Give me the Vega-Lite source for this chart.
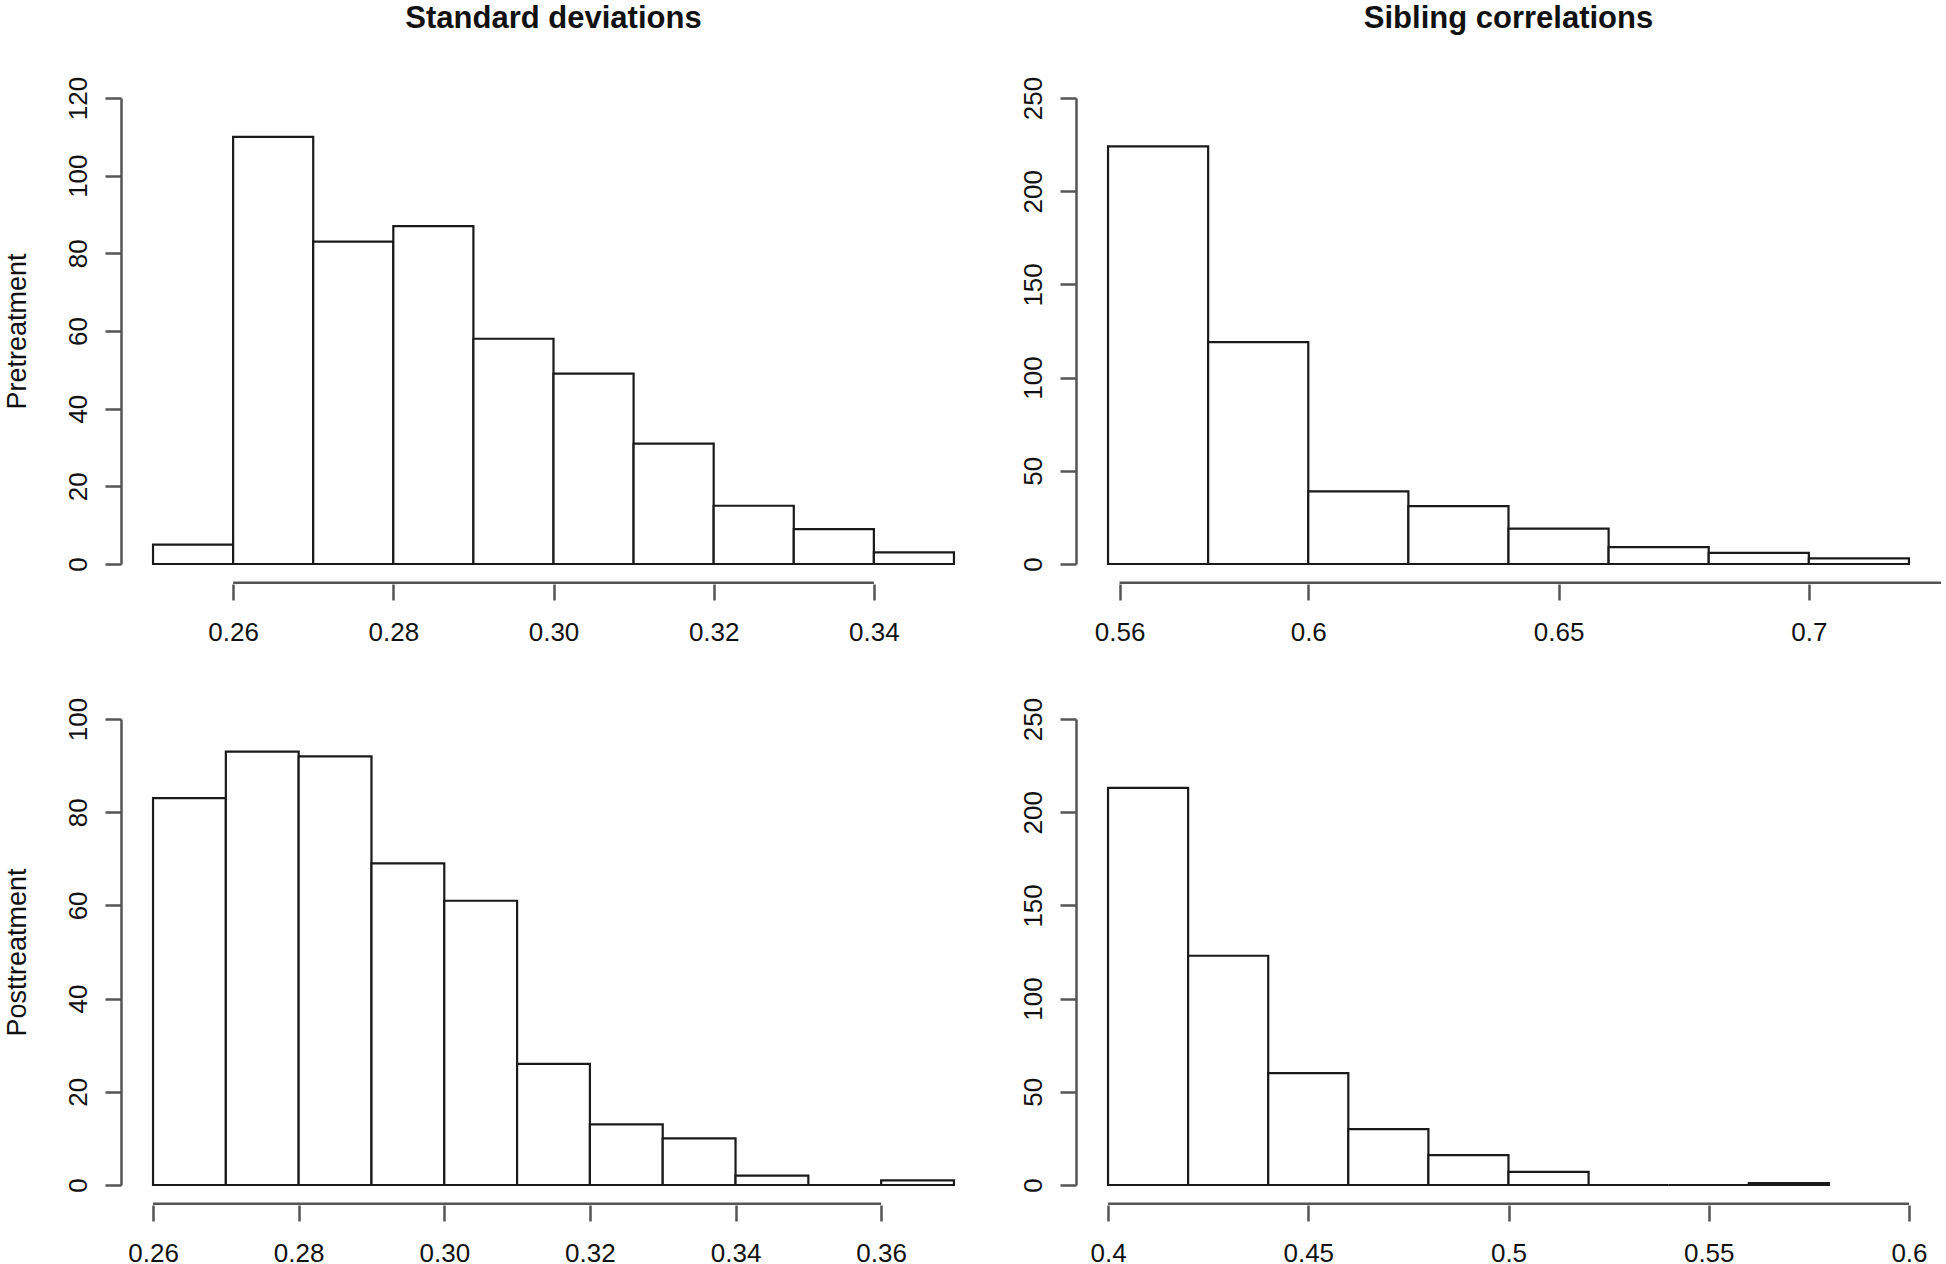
{
  "$schema": "https://vega.github.io/schema/vega-lite/v6.json",
  "background": "white",
  "padding": {"left": 3, "top": 3, "right": 0, "bottom": 0},
  "bounds": "flush",
  "columns": 2,
  "spacing": {"row": 155, "column": 90},
  "datasets": {
    "sd_pre": [
      {"bin_start": 0.25, "bin_end": 0.26, "count": 5},
      {"bin_start": 0.26, "bin_end": 0.27, "count": 110},
      {"bin_start": 0.27, "bin_end": 0.28, "count": 83},
      {"bin_start": 0.28, "bin_end": 0.29, "count": 87},
      {"bin_start": 0.29, "bin_end": 0.30, "count": 58},
      {"bin_start": 0.30, "bin_end": 0.31, "count": 49},
      {"bin_start": 0.31, "bin_end": 0.32, "count": 31},
      {"bin_start": 0.32, "bin_end": 0.33, "count": 15},
      {"bin_start": 0.33, "bin_end": 0.34, "count": 9},
      {"bin_start": 0.34, "bin_end": 0.35, "count": 3}
    ],
    "sc_pre": [
      {"bin_start": 0.56, "bin_end": 0.58, "count": 224},
      {"bin_start": 0.58, "bin_end": 0.60, "count": 119},
      {"bin_start": 0.60, "bin_end": 0.62, "count": 39},
      {"bin_start": 0.62, "bin_end": 0.64, "count": 31},
      {"bin_start": 0.64, "bin_end": 0.66, "count": 19},
      {"bin_start": 0.66, "bin_end": 0.68, "count": 9},
      {"bin_start": 0.68, "bin_end": 0.70, "count": 6},
      {"bin_start": 0.70, "bin_end": 0.72, "count": 3}
    ],
    "sd_post": [
      {"bin_start": 0.26, "bin_end": 0.27, "count": 83},
      {"bin_start": 0.27, "bin_end": 0.28, "count": 93},
      {"bin_start": 0.28, "bin_end": 0.29, "count": 92},
      {"bin_start": 0.29, "bin_end": 0.30, "count": 69},
      {"bin_start": 0.30, "bin_end": 0.31, "count": 61},
      {"bin_start": 0.31, "bin_end": 0.32, "count": 26},
      {"bin_start": 0.32, "bin_end": 0.33, "count": 13},
      {"bin_start": 0.33, "bin_end": 0.34, "count": 10},
      {"bin_start": 0.34, "bin_end": 0.35, "count": 2},
      {"bin_start": 0.35, "bin_end": 0.36, "count": 0},
      {"bin_start": 0.36, "bin_end": 0.37, "count": 1}
    ],
    "sc_post": [
      {"bin_start": 0.40, "bin_end": 0.42, "count": 213},
      {"bin_start": 0.42, "bin_end": 0.44, "count": 123},
      {"bin_start": 0.44, "bin_end": 0.46, "count": 60},
      {"bin_start": 0.46, "bin_end": 0.48, "count": 30},
      {"bin_start": 0.48, "bin_end": 0.50, "count": 16},
      {"bin_start": 0.50, "bin_end": 0.52, "count": 7},
      {"bin_start": 0.52, "bin_end": 0.54, "count": 0},
      {"bin_start": 0.54, "bin_end": 0.56, "count": 0},
      {"bin_start": 0.56, "bin_end": 0.58, "count": 1}
    ]
  },
  "concat": [
    {
      "title": {"text": "Standard deviations"},
      "width": 865,
      "height": 466,
      "layer": [
        {
          "data": {"name": "sd_pre"},
          "mark": {"type": "rect", "fill": "white", "stroke": "#1a1a1a", "strokeWidth": 2.2},
          "encoding": {
            "x": {"field": "bin_start", "type": "quantitative",
                  "scale": {"domain": [0.246, 0.354], "nice": false, "zero": false},
                  "axis": {"values": [0.26, 0.28, 0.30, 0.32, 0.34], "format": ".2f"}},
            "x2": {"field": "bin_end"},
            "y": {"field": "count", "type": "quantitative",
                  "scale": {"domain": [0, 120], "nice": false},
                  "axis": {"values": [0, 20, 40, 60, 80, 100, 120], "title": "Pretreatment"}},
            "y2": {"datum": 0}
          }
        },
        {
          "data": {"values": [{"from": 0.26, "to": 0.34}]},
          "mark": {"type": "rule", "stroke": "#555", "strokeWidth": 2.5},
          "encoding": {"x": {"field": "from", "type": "quantitative"}, "x2": {"field": "to"}, "y": {"datum": -4.8}}
        }
      ]
    },
    {
      "title": {"text": "Sibling correlations"},
      "width": 865,
      "height": 466,
      "layer": [
        {
          "data": {"name": "sc_pre"},
          "mark": {"type": "rect", "fill": "white", "stroke": "#1a1a1a", "strokeWidth": 2.2},
          "encoding": {
            "x": {"field": "bin_start", "type": "quantitative",
                  "scale": {"domain": [0.5536, 0.7264], "nice": false, "zero": false},
                  "axis": {"values": [0.5623, 0.6, 0.65, 0.7], "format": ".2~f"}},
            "x2": {"field": "bin_end"},
            "y": {"field": "count", "type": "quantitative",
                  "scale": {"domain": [0, 250], "nice": false},
                  "axis": {"values": [0, 50, 100, 150, 200, 250], "title": null}},
            "y2": {"datum": 0}
          }
        },
        {
          "data": {"values": [{"from": 0.5623, "to": 0.7264}]},
          "mark": {"type": "rule", "stroke": "#555", "strokeWidth": 2.5},
          "encoding": {"x": {"field": "from", "type": "quantitative"}, "x2": {"field": "to"}, "y": {"datum": -10}}
        }
      ]
    },
    {
      "width": 865,
      "height": 466,
      "layer": [
        {
          "data": {"name": "sd_post"},
          "mark": {"type": "rect", "fill": "white", "stroke": "#1a1a1a", "strokeWidth": 2.2},
          "encoding": {
            "x": {"field": "bin_start", "type": "quantitative",
                  "scale": {"domain": [0.2556, 0.3744], "nice": false, "zero": false},
                  "axis": {"values": [0.26, 0.28, 0.30, 0.32, 0.34, 0.36], "format": ".2f"}},
            "x2": {"field": "bin_end"},
            "y": {"field": "count", "type": "quantitative",
                  "scale": {"domain": [0, 100], "nice": false},
                  "axis": {"values": [0, 20, 40, 60, 80, 100], "title": "Posttreatment"}},
            "y2": {"datum": 0}
          }
        },
        {
          "data": {"values": [{"from": 0.26, "to": 0.36}]},
          "mark": {"type": "rule", "stroke": "#555", "strokeWidth": 2.5},
          "encoding": {"x": {"field": "from", "type": "quantitative"}, "x2": {"field": "to"}, "y": {"datum": -4}}
        }
      ]
    },
    {
      "width": 865,
      "height": 466,
      "layer": [
        {
          "data": {"name": "sc_post"},
          "mark": {"type": "rect", "fill": "white", "stroke": "#1a1a1a", "strokeWidth": 2.2},
          "encoding": {
            "x": {"field": "bin_start", "type": "quantitative",
                  "scale": {"domain": [0.392, 0.608], "nice": false, "zero": false},
                  "axis": {"values": [0.4, 0.45, 0.5, 0.55, 0.6], "format": ".2~f"}},
            "x2": {"field": "bin_end"},
            "y": {"field": "count", "type": "quantitative",
                  "scale": {"domain": [0, 250], "nice": false},
                  "axis": {"values": [0, 50, 100, 150, 200, 250], "title": null}},
            "y2": {"datum": 0}
          }
        },
        {
          "data": {"values": [{"from": 0.4, "to": 0.6}]},
          "mark": {"type": "rule", "stroke": "#555", "strokeWidth": 2.5},
          "encoding": {"x": {"field": "from", "type": "quantitative"}, "x2": {"field": "to"}, "y": {"datum": -10}}
        }
      ]
    }
  ],
  "config": {
    "view": {"stroke": null},
    "font": "Liberation Sans",
    "title": {"fontSize": 31, "fontWeight": "bold", "font": "Liberation Sans", "color": "#111", "anchor": "middle", "baseline": "alphabetic", "offset": 41},
    "axis": {"grid": false, "labelFontSize": 26, "labelColor": "#111", "tickColor": "#555", "tickWidth": 2.5, "tickSize": 16, "domainColor": "#555", "domainWidth": 2.5, "labelOverlap": false, "labelFlush": false, "titleFontSize": 27, "titleFontWeight": "normal", "titleColor": "#111"},
    "axisX": {"orient": "bottom", "domain": false, "offset": 20, "labelPadding": 19, "title": null},
    "axisY": {"labelAngle": -90, "labelAlign": "center", "labelBaseline": "bottom", "labelPadding": 14, "titlePadding": 34}
  }
}
